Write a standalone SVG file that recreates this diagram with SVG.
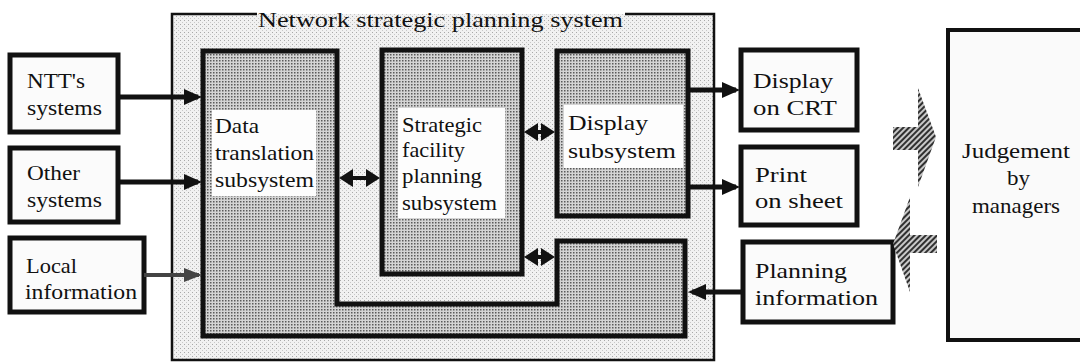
<svg xmlns="http://www.w3.org/2000/svg" width="1080" height="364" viewBox="0 0 1080 364">
<defs>
<pattern id="frameFill" width="4" height="4" patternUnits="userSpaceOnUse">
<rect width="4" height="4" fill="#f1f1f1"/>
<rect x="0" y="0" width="1" height="1" fill="#a8a8a8"/>
<rect x="2" y="2" width="1" height="1" fill="#c8c8c8"/>
</pattern>
<pattern id="blockFill" width="3" height="3" patternUnits="userSpaceOnUse">
<rect width="3" height="3" fill="#d4d4d4"/>
<rect x="0" y="0" width="1.5" height="1.5" fill="#5a5a5a"/>
</pattern>
<pattern id="hatch" width="4" height="4" patternUnits="userSpaceOnUse" patternTransform="rotate(45)">
<rect width="4" height="4" fill="#c8c8c8"/>
<rect x="0" y="0" width="2" height="4" fill="#303030"/>
</pattern>
<marker id="ah" markerUnits="userSpaceOnUse" markerWidth="18" markerHeight="16" refX="14" refY="8" orient="auto-start-reverse">
<path d="M0,0 L18,8 L0,16 z" fill="#111"/>
</marker>
<marker id="ahg" markerUnits="userSpaceOnUse" markerWidth="18" markerHeight="14" refX="15" refY="7" orient="auto-start-reverse">
<path d="M0,0 L18,7 L0,14 z" fill="#444"/>
</marker>
<marker id="dh" markerUnits="userSpaceOnUse" markerWidth="14" markerHeight="18" refX="10" refY="9" orient="auto-start-reverse">
<path d="M0,0 L14,9 L0,18 z" fill="#111"/>
</marker>
<style>
.box{fill:#fbfbfb;stroke:#111;stroke-width:5}
.blk{fill:url(#blockFill);stroke:#111;stroke-width:5}
.lbl{fill:#fdfdfd}
.con{stroke:#111;stroke-width:5;fill:none}
.dbl{stroke:#111;stroke-width:4;fill:none;marker-start:url(#dh);marker-end:url(#dh)}
.big{fill:url(#hatch)}
</style>
</defs>
<rect width="1080" height="364" fill="#ffffff"/>

<g id="frame">
<rect x="172" y="14" width="542" height="346" fill="url(#frameFill)"/>
<path d="M257,14 H172 V360 H714 V14 H625" fill="none" stroke="#111" stroke-width="2.5"/>
<text font-family="Liberation Serif, serif" font-size="21" fill="#111" x="258" y="27" textLength="365" lengthAdjust="spacingAndGlyphs">Network strategic planning system</text>
</g>

<g id="ntt">
<rect class="box" x="10" y="55" width="108" height="77"/>
<text font-family="Liberation Serif, serif" font-size="21" fill="#111" x="27" y="88" textLength="58" lengthAdjust="spacingAndGlyphs">NTT's</text>
<text font-family="Liberation Serif, serif" font-size="21" fill="#111" x="27" y="115" textLength="75" lengthAdjust="spacingAndGlyphs">systems</text>
</g>
<g id="other">
<rect class="box" x="10" y="148" width="108" height="74"/>
<text font-family="Liberation Serif, serif" font-size="21" fill="#111" x="27" y="180" textLength="53" lengthAdjust="spacingAndGlyphs">Other</text>
<text font-family="Liberation Serif, serif" font-size="21" fill="#111" x="27" y="207" textLength="75" lengthAdjust="spacingAndGlyphs">systems</text>
</g>
<g id="local">
<rect class="box" x="10" y="238" width="134" height="74"/>
<text font-family="Liberation Serif, serif" font-size="21" fill="#111" x="26" y="273" textLength="51" lengthAdjust="spacingAndGlyphs">Local</text>
<text font-family="Liberation Serif, serif" font-size="21" fill="#111" x="25" y="299" textLength="112" lengthAdjust="spacingAndGlyphs">information</text>
</g>

<g id="data">
<polygon class="blk" points="203,51 337,51 337,304 557,304 557,241 685,241 685,336 203,336"/>
<rect class="lbl" x="212" y="110" width="104" height="86"/>
<text font-family="Liberation Serif, serif" font-size="21" fill="#111" x="215" y="133" textLength="44" lengthAdjust="spacingAndGlyphs">Data</text>
<text font-family="Liberation Serif, serif" font-size="21" fill="#111" x="215" y="160" textLength="99" lengthAdjust="spacingAndGlyphs">translation</text>
<text font-family="Liberation Serif, serif" font-size="21" fill="#111" x="215" y="187" textLength="99" lengthAdjust="spacingAndGlyphs">subsystem</text>
</g>

<g id="strategic">
<rect class="blk" x="382" y="50" width="140" height="224"/>
<rect class="lbl" x="398" y="108" width="107" height="110"/>
<text font-family="Liberation Serif, serif" font-size="21" fill="#111" x="402" y="132" textLength="80" lengthAdjust="spacingAndGlyphs">Strategic</text>
<text font-family="Liberation Serif, serif" font-size="21" fill="#111" x="402" y="157" textLength="63" lengthAdjust="spacingAndGlyphs">facility</text>
<text font-family="Liberation Serif, serif" font-size="21" fill="#111" x="402" y="183" textLength="80" lengthAdjust="spacingAndGlyphs">planning</text>
<text font-family="Liberation Serif, serif" font-size="21" fill="#111" x="402" y="210" textLength="95" lengthAdjust="spacingAndGlyphs">subsystem</text>
</g>

<g id="display">
<rect class="blk" x="557" y="51" width="131" height="165"/>
<rect class="lbl" x="564" y="105" width="119" height="63"/>
<text font-family="Liberation Serif, serif" font-size="21" fill="#111" x="568" y="130" textLength="80" lengthAdjust="spacingAndGlyphs">Display</text>
<text font-family="Liberation Serif, serif" font-size="21" fill="#111" x="568" y="158" textLength="108" lengthAdjust="spacingAndGlyphs">subsystem</text>
</g>

<g id="crt">
<rect class="box" x="741" y="50" width="116" height="80"/>
<text font-family="Liberation Serif, serif" font-size="21" fill="#111" x="753" y="88" textLength="80" lengthAdjust="spacingAndGlyphs">Display</text>
<text font-family="Liberation Serif, serif" font-size="21" fill="#111" x="753" y="115" textLength="84" lengthAdjust="spacingAndGlyphs">on CRT</text>
</g>
<g id="print">
<rect class="box" x="741" y="147" width="116" height="78"/>
<text font-family="Liberation Serif, serif" font-size="21" fill="#111" x="755" y="182" textLength="52" lengthAdjust="spacingAndGlyphs">Print</text>
<text font-family="Liberation Serif, serif" font-size="21" fill="#111" x="755" y="208" textLength="88" lengthAdjust="spacingAndGlyphs">on sheet</text>
</g>
<g id="planning">
<rect class="box" x="743" y="242" width="150" height="80"/>
<text font-family="Liberation Serif, serif" font-size="21" fill="#111" x="755" y="278" textLength="92" lengthAdjust="spacingAndGlyphs">Planning</text>
<text font-family="Liberation Serif, serif" font-size="21" fill="#111" x="755" y="305" textLength="123" lengthAdjust="spacingAndGlyphs">information</text>
</g>
<g id="judgement">
<rect x="948" y="30" width="150" height="310" fill="#fafafa" stroke="#111" stroke-width="4"/>
<text font-family="Liberation Serif, serif" font-size="21" fill="#111" x="962" y="158" textLength="108" lengthAdjust="spacingAndGlyphs">Judgement</text>
<text font-family="Liberation Serif, serif" font-size="21" fill="#111" x="1007" y="185" textLength="23" lengthAdjust="spacingAndGlyphs">by</text>
<text font-family="Liberation Serif, serif" font-size="21" fill="#111" x="972" y="213" textLength="88" lengthAdjust="spacingAndGlyphs">managers</text>
</g>

<g id="connectors">
<line class="con" x1="118" y1="97" x2="198" y2="97" marker-end="url(#ah)"/>
<line class="con" x1="118" y1="182" x2="198" y2="182" marker-end="url(#ah)"/>
<line x1="144" y1="275" x2="199" y2="275" stroke="#444" stroke-width="4" marker-end="url(#ahg)"/>
<line class="dbl" x1="343" y1="178" x2="376" y2="178"/>
<line class="dbl" x1="528" y1="132" x2="551" y2="132"/>
<line class="dbl" x1="528" y1="257" x2="551" y2="257"/>
<line class="con" x1="688" y1="90" x2="736" y2="90" marker-end="url(#ah)"/>
<line class="con" x1="688" y1="187" x2="736" y2="187" marker-end="url(#ah)"/>
<line class="con" x1="743" y1="292" x2="692" y2="292" marker-end="url(#ah)"/>
<polygon class="big" points="893,127 918,127 918,88 936,137 918,187 918,150 893,150"/>
<polygon class="big" points="937,235 910,235 910,197 893,244 910,292 910,253 937,253"/>
</g>
</svg>
